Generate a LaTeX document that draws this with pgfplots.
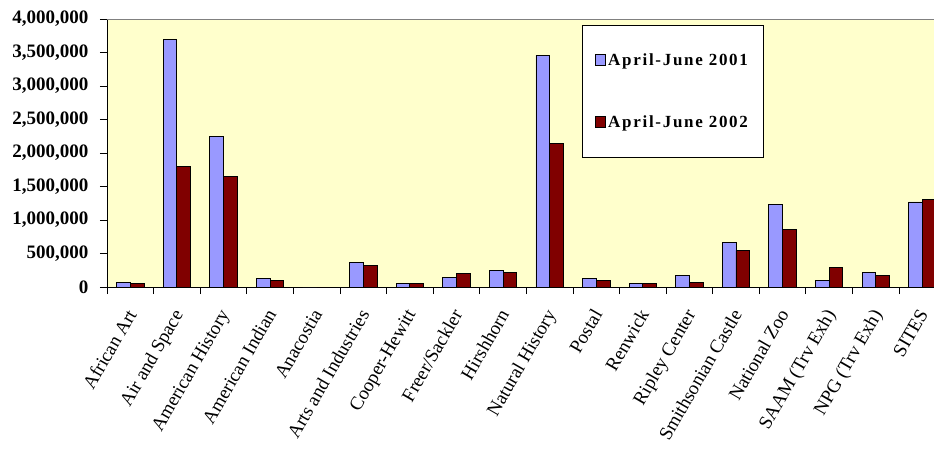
\documentclass[border=0pt]{standalone}
\usepackage{pgfplots}
\pgfplotsset{compat=1.18}
\usepackage{fontspec}
\setmainfont{Liberation Serif}
\newfontfamily\legfont{Liberation Serif}[LetterSpace=10]
\definecolor{bblue}{HTML}{9999FF}
\definecolor{dred}{HTML}{800000}
\definecolor{bgyel}{HTML}{FFFFCC}
\begin{document}
\begin{tikzpicture}
\useasboundingbox (-107pt,-161pt) rectangle (827pt,287pt);
\begin{axis}[
  /pgfplots/ybar legend/.style={/pgfplots/legend image code/.code={\draw[##1,draw=black,line width=0.8pt] (0pt,-5.5pt) rectangle (10pt,5.5pt);}},
  at={(0,0)}, anchor=south west,
  scale only axis, width=827pt, height=268pt,
  xmin=-0.5, xmax=17.25, ymin=0, ymax=4000000,
  ybar=0pt, bar width=0.294,
  legend image code/.code={\draw[#1,draw=black,line width=0.8pt] (0pt,-5.5pt) rectangle (10pt,5.5pt);},
  axis background/.style={fill=bgyel},
  axis x line*=bottom, axis y line*=left,
  axis line style={black, line width=0.8pt},
  tick align=outside, major tick length=7pt,
  tick style={black, line width=0.8pt},
  ytick={0,500000,...,4000000},
  scaled y ticks=false,
  y tick label style={/pgf/number format/fixed, /pgf/number format/1000 sep={,},
     /pgf/number format/assume math mode=true, xshift=-8pt,
     font=\fontsize{19}{19}\selectfont\bfseries},
  xtick={-0.5,0.5,...,16.5}, xticklabels={},
  extra x ticks={0,1,...,17},
  extra x tick labels={African Art, Air and Space, American History, American Indian, Anacostia, Arts and Industries, Cooper-Hewitt, Freer/Sackler, Hirshhorn, Natural History, Postal, Renwick, Ripley Center, Smithsonian Castle, National Zoo, SAAM (Trv Exh), NPG (Trv Exh), SITES},
  extra x tick style={major tick length=0pt,
     tick label style={xshift=-6pt, yshift=-16pt, rotate=60, anchor=north east, font=\fontsize{19}{19}\selectfont}},
  legend style={at={(0.5744,0.9776)}, anchor=north west, draw=black, line width=0.8pt, fill=white,
     font=\legfont\fontsize{17}{17}\selectfont\bfseries, row sep=45pt, inner ysep=26pt, inner xsep=13pt},
  legend cell align=left,
]
\addplot[fill=bblue, draw=black, line width=0.8pt] coordinates {
(0,70000) (1,3700000) (2,2250000) (3,130000) (4,0) (5,370000) (6,50000) (7,145000) (8,250000)
(9,3460000) (10,130000) (11,50000) (12,170000) (13,660000) (14,1230000) (15,95000) (16,220000) (17,1270000)};
\addplot[fill=dred, draw=black, line width=0.8pt] coordinates {
(0,50000) (1,1800000) (2,1650000) (3,95000) (4,0) (5,325000) (6,50000) (7,200000) (8,220000)
(9,2140000) (10,95000) (11,50000) (12,70000) (13,545000) (14,860000) (15,295000) (16,170000) (17,1310000)};
\legend{April-June 2001, April-June 2002}
\draw[gray, line width=0.8pt] (rel axis cs:0,1) -- (rel axis cs:1,1);
\end{axis}
\end{tikzpicture}
\end{document}
